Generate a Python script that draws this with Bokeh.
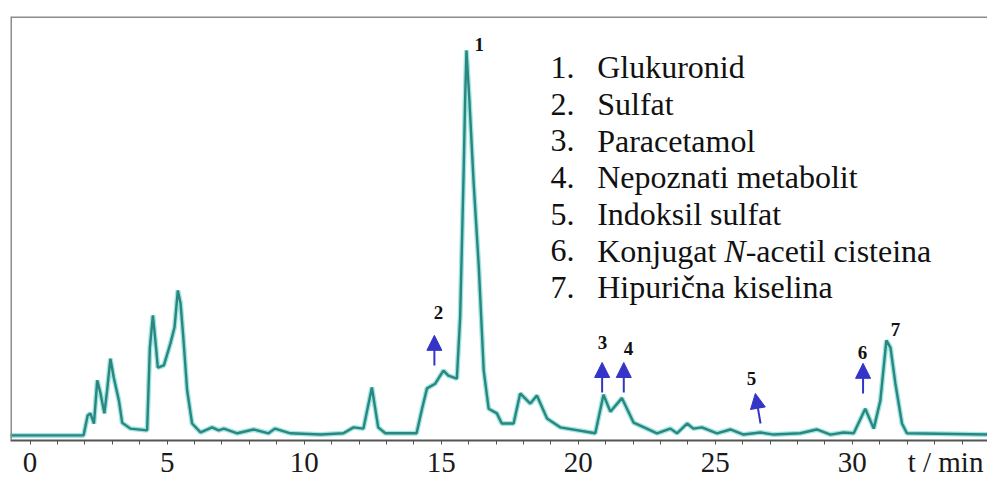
from bokeh.plotting import figure
from bokeh.models import (Range1d, FixedTicker, Span, Label, Arrow, NormalHead,
                          ColumnDataSource)
from bokeh.embed import file_html
from bokeh.resources import INLINE

# ---- chromatogram trace (retention time in min, relative signal) ----
time_min = [-0.8, 1.95, 2.1, 2.2, 2.33, 2.45, 2.57, 2.71, 2.81, 2.93, 3.05, 3.24,
            3.36, 3.66, 4.27, 4.37, 4.48, 4.58, 4.66, 4.88, 5.12, 5.27, 5.39, 5.49,
            5.59, 5.73, 5.91, 6.22, 6.64, 6.88, 7.07, 7.56, 8.15, 8.7, 8.93, 9.5,
            10.6, 11.43, 11.8, 12.16, 12.47, 12.7, 12.96, 14.1, 14.3, 14.48, 14.78,
            15.08, 15.26, 15.57, 15.69, 15.75, 15.82, 15.87, 15.92, 16.03, 16.18,
            16.37, 16.55, 16.73, 17.03, 17.21, 17.64, 17.88, 18.25, 18.49, 18.86,
            19.34, 20.62, 20.92, 21.17, 21.59, 22.02, 22.5, 22.87, 23.36, 23.6,
            23.97, 24.2, 24.51, 25.06, 25.55, 26.03, 26.64, 27.13, 28.1, 28.7,
            29.2, 29.68, 30.05, 30.47, 30.78, 31.02, 31.24, 31.39, 31.57, 31.81,
            31.99, 34.95]
signal = [1.2, 1.2, 5.9, 6.4, 4.0, 14.2, 11.1, 6.4, 11.8, 19.3, 14.9, 9.4,
          4.2, 2.8, 2.4, 21.9, 29.5, 22.9, 17.2, 17.7, 22.9, 26.7, 35.4, 32.3,
          24.3, 11.8, 4.0, 1.9, 3.1, 2.4, 2.8, 1.7, 2.6, 1.7, 2.8, 1.7,
          1.4, 1.7, 3.1, 2.8, 12.5, 3.1, 1.7, 1.7, 7.5, 12.3, 13.4,
          16.5, 15.3, 14.6, 29.0, 45.0, 64.0, 80.0, 92.0, 80.0, 61.0,
          41.0, 16.5, 7.5, 6.4, 4.0, 4.0, 11.1, 8.7, 10.6, 5.2,
          3.1, 1.7, 10.8, 6.8, 10.0, 4.2, 2.8, 1.7, 2.8, 1.7,
          4.0, 2.8, 3.1, 1.7, 2.6, 1.4, 1.9, 1.4, 1.7, 2.6,
          1.4, 1.9, 1.7, 7.5, 2.8, 9.4, 23.6, 21.9, 13.4, 4.0,
          1.7, 1.4]

# ---- peak numbers ----
peak_ids = ["1", "2", "3", "4", "5", "6", "7"]
peak_label_t = [16.39, 14.90, 20.88, 21.83, 26.32, 30.37, 31.57]
peak_label_v = [93.4, 30.2, 23.1, 21.7, 14.6, 20.8, 26.2]

# ---- arrows marking minor peaks (tail -> tip) ----
arrow_t_tail = [14.75, 20.87, 21.66, 26.65, 30.39]
arrow_v_tail = [17.7, 11.3, 11.3, 4.0, 11.1]
arrow_t_tip = [14.75, 20.87, 21.66, 26.46, 30.39]
arrow_v_tip = [24.8, 18.4, 18.4, 11.1, 18.2]

# ---- legend list ----
legend_numbers = ["1.", "2.", "3.", "4.", "5.", "6.", "7."]
legend_names = ["Glukuronid", "Sulfat", "Paracetamol", "Nepoznati metabolit",
                "Indoksil sulfat", "Konjugat |N|-acetil cisteina", "Hipurična kiselina"]

# ---- axis ticks ----
major_ticks = [0, 5, 10, 15, 20, 25, 30]
minor_ticks = list(range(0, 35))
unit_tick = 33.4           # where the axis title sits on the tick-label row
unit_text = "t / min"

SERIF = "Liberation Serif"
PX_PER_MIN = 27.41

p = figure(width=987, height=480, x_range=Range1d(-0.715, 34.93),
           y_range=Range1d(0, 100), output_backend="svg", toolbar_location=None,
           min_border_left=10, min_border_right=0, min_border_top=16,
           min_border_bottom=40)
p.outline_line_color = None
p.grid.visible = False
p.yaxis.visible = False
p.background_fill_color = "white"
p.border_fill_color = "white"

xa = p.xaxis[0]
xa.ticker = FixedTicker(ticks=major_ticks + [unit_tick], minor_ticks=minor_ticks)
overrides = {t: str(t) for t in major_ticks}
overrides[unit_tick] = unit_text
xa.major_label_overrides = overrides
xa.axis_line_color = "#555555"
xa.axis_line_width = 2
xa.major_tick_line_color = None
xa.minor_tick_line_color = "#555555"
xa.major_tick_in = 0
xa.major_tick_out = 0
xa.minor_tick_in = 0
xa.minor_tick_out = 4
xa.major_label_text_font = SERIF
xa.major_label_text_font_size = "29px"
xa.major_label_text_color = "#1a1a1a"
xa.major_label_standoff = 1

# frame borders (left and top)
p.add_layout(Span(location=-0.715, dimension="height", line_color="#8c8c8c", line_width=3))
p.add_layout(Span(location=100, dimension="width", line_color="#8c8c8c", line_width=3))

# trace with halo
p.line(time_min, signal, line_color="#5fd3cd", line_width=5, line_alpha=0.6)
p.line(time_min, signal, line_color="#2a867e", line_width=2.4)

# arrows
asrc = ColumnDataSource(dict(x0=arrow_t_tail, y0=arrow_v_tail, x1=arrow_t_tip, y1=arrow_v_tip))
blue = "#3434c8"
p.add_layout(Arrow(source=asrc, x_start="x0", y_start="y0", x_end="x1", y_end="y1",
                   line_color=blue, line_width=2,
                   end=NormalHead(size=15, fill_color=blue, line_color=blue)))

# peak numbers
for pid, t, v in zip(peak_ids, peak_label_t, peak_label_v):
    p.add_layout(Label(x=t, y=v, text=pid, text_font=SERIF, text_font_size="19px",
                       text_font_style="bold", text_align="center",
                       text_baseline="middle", text_color="#111111"))

# legend list
num_x = 18.99
name_x = 20.69
base_v = 88.0
step_v = 8.65
leg_font = 32
widths = {"Konjugat ": 3.972, "N": 0.667}
for i, (num, name) in enumerate(zip(legend_numbers, legend_names)):
    yv = base_v - i * step_v
    p.add_layout(Label(x=num_x, y=yv, text=num, text_font=SERIF,
                       text_font_size=f"{leg_font}px", text_baseline="middle",
                       text_color="#111111"))
    xpos = name_x
    for k, part in enumerate(name.split("|")):
        style = "italic" if k % 2 == 1 else "normal"
        p.add_layout(Label(x=xpos, y=yv, text=part, text_font=SERIF,
                           text_font_size=f"{leg_font}px", text_font_style=style,
                           text_baseline="middle", text_color="#111111"))
        xpos += widths.get(part, 0) * leg_font / PX_PER_MIN

open("out.html", "w").write(file_html(p, INLINE))
